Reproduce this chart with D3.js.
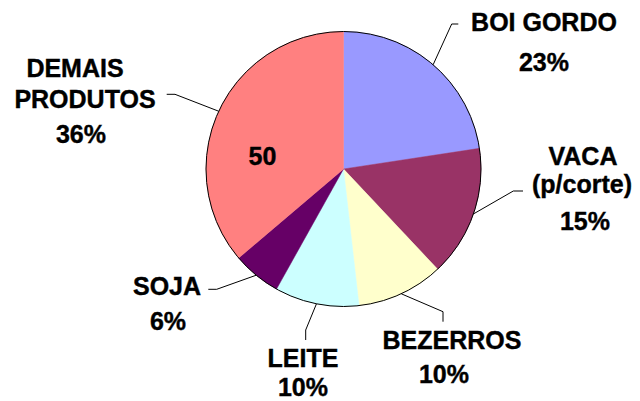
<!DOCTYPE html>
<html>
<head>
<meta charset="utf-8">
<script src="https://cdn.jsdelivr.net/npm/d3@7"></script>
<style>
  body { margin: 0; background: #fff; }
  text { font-family: "Liberation Sans", Arial, sans-serif; font-weight: bold; fill: #000; stroke: #000; stroke-width: 0.4px; }
</style>
</head>
<body>
<svg id="chart" width="640" height="401"></svg>
<script>
const categories = ["BOI GORDO", "VACA", "BEZERROS", "LEITE", "SOJA", "DEMAIS PRODUTOS"];
const labelLines = [["BOI GORDO"], ["VACA", "(p/corte)"], ["BEZERROS"], ["LEITE"], ["SOJA"], ["DEMAIS", "PRODUTOS"]];
const shares = [22.6, 15.4, 10.2, 9.9, 5.7, 36.2];
const colors = ["#9999ff", "#993366", "#ffffcc", "#ccffff", "#660066", "#ff8080"];
const innerNote = "50";

// label placement (line centres and baselines) and leader elbows
const labelX = [[544, 544], [583, 582, 585], [452, 444], [303, 303], [167, 168], [75, 85, 81]];
const labelY = [[30.7, 71], [165, 193, 230], [349.3, 383.3], [367.3, 396], [295, 330], [77.3, 108.3, 143.3]];
const elbows = [
  [[451.7, 24], [458.3, 24]],
  [[513.3, 191], [523, 191]],
  [[443, 311.7], [443, 321.7]],
  [[305.7, 330], [305.7, 340]],
  [[216.7, 289.3], [208.3, 289.3]],
  [[175, 94.3], [166.7, 94.3]]
];

const cx = 343.5, cy = 169, radius = 137.5;
const fontSize = 25;
const svg = d3.select("#chart");

const pie = d3.pie().sort(null).value(d => d.value);
const arcs = pie(categories.map((c, i) => ({ name: c, value: shares[i], i })));
const arc = d3.arc().innerRadius(0).outerRadius(radius);

const g = svg.append("g").attr("transform", `translate(${cx},${cy})`);

g.selectAll("path.slice")
  .data(arcs)
  .enter()
  .append("path")
  .attr("class", "slice")
  .attr("d", arc)
  .attr("fill", d => colors[d.data.i])
  .attr("stroke", d => colors[d.data.i])
  .attr("stroke-width", 0.5);

g.append("circle")
  .attr("r", radius)
  .attr("fill", "none")
  .attr("stroke", "#000")
  .attr("stroke-width", 1);

// leader lines
const line = d3.line();
arcs.forEach(d => {
  const mid = (d.startAngle + d.endAngle) / 2;
  const start = [cx + radius * Math.sin(mid), cy - radius * Math.cos(mid)];
  svg.append("path")
    .attr("d", line([start].concat(elbows[d.data.i])))
    .attr("fill", "none")
    .attr("stroke", "#000")
    .attr("stroke-width", 1);
});

// labels
arcs.forEach(d => {
  const i = d.data.i;
  const lines = labelLines[i].concat([Math.round(d.value) + "%"]);
  const t = svg.append("text")
    .attr("text-anchor", "middle")
    .attr("font-size", fontSize);
  lines.forEach((s, k) => {
    t.append("tspan")
      .attr("x", labelX[i][k])
      .attr("y", labelY[i][k])
      .text(s);
  });
});

svg.append("text")
  .attr("x", cx - 81)
  .attr("y", cy - 4)
  .attr("text-anchor", "middle")
  .attr("font-size", fontSize)
  .text(innerNote);
</script>
</body>
</html>
